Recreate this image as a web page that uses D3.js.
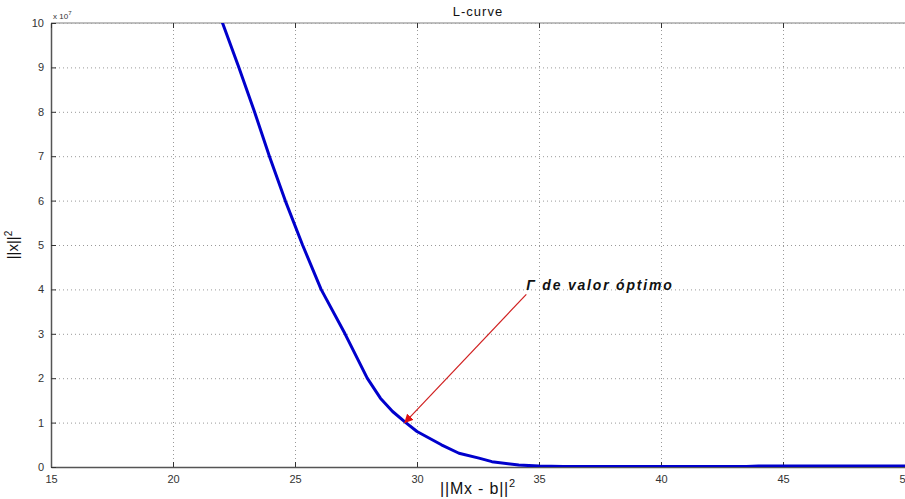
<!DOCTYPE html>
<html>
<head>
<meta charset="utf-8">
<script src="https://cdn.jsdelivr.net/npm/d3@7"></script>
<style>
  body { margin: 0; background: #fff; }
  svg text { font-family: Arial, "Liberation Sans", sans-serif; }
  .grid line { stroke: #999; stroke-dasharray: 1,3; stroke-width: 1; }
  .grid .domain { display: none; }
  .axis text { fill: #333; font-size: 11px; }
  .axis line { stroke: #333; }
</style>
</head>
<body>
<svg id="chart" width="905" height="499"></svg>
<script>
// values (y in units of 1e7)
let residual = [21.8, 22.03, 22.7, 23.34, 23.95, 24.6, 25.31, 26.07, 27.05, 27.96, 28.5, 29.0, 29.54, 30.0, 31.0, 31.72, 32.54, 33.07, 34.17, 35.0, 36.0, 40.0, 43.5, 44.0, 50.0]
let solnorm = [10.4, 10, 9, 8, 7, 6, 5, 4, 3, 2, 1.55, 1.25, 1.0, 0.8, 0.5, 0.31, 0.2, 0.12, 0.045, 0.02, 0.01, 0.01, 0.01, 0.02, 0.02]
let xTicks = [15, 20, 25, 30, 35, 40, 45, 50]
let yTicks = [0, 1, 2, 3, 4, 5, 6, 7, 8, 9, 10]
let optimum = [29.5, 1.0]
let labelAt = [34.48, 3.98]

let svg = d3.select('#chart')
let margin = { top: 23, bottom: 32, left: 51, right: 0 }
let width = 905, height = 499

let xscale = d3.scaleLinear().domain([15, 50]).range([margin.left, width - margin.right])
let yscale = d3.scaleLinear().domain([0, 10]).range([height - margin.bottom, margin.top])

// grid
svg.append('g').attr('class', 'grid')
    .attr('transform', `translate(0,${height - margin.bottom})`)
    .call(d3.axisBottom(xscale).tickValues(xTicks).tickSize(-(height - margin.top - margin.bottom)).tickFormat(''))
svg.append('g').attr('class', 'grid')
    .attr('transform', `translate(${margin.left},0)`)
    .call(d3.axisLeft(yscale).tickValues(yTicks).tickSize(-(width - margin.left - margin.right)).tickFormat(''))

// top edge of the box
svg.append('line').attr('x1', margin.left).attr('x2', width).attr('y1', margin.top).attr('y2', margin.top)
    .attr('stroke', '#aaa').attr('stroke-width', 1.5)

// axes (ticks inside, matlab style)
let xAxis = svg.append('g').attr('class', 'axis xAxis')
    .attr('transform', `translate(0,${height - margin.bottom})`)
    .call(d3.axisBottom(xscale).tickValues(xTicks).tickSize(-5).tickPadding(8).tickSizeOuter(0))
xAxis.select('.domain').attr('stroke', '#555').attr('stroke-width', 1.5)

let yAxis = svg.append('g').attr('class', 'axis yAxis')
    .attr('transform', `translate(${margin.left},0)`)
    .call(d3.axisLeft(yscale).tickValues(yTicks).tickSize(-5).tickPadding(7).tickSizeOuter(0))
yAxis.select('.domain').attr('stroke', '#555').attr('stroke-width', 1.5)

// top ticks
svg.append('g').attr('class', 'axis')
    .attr('transform', `translate(0,${margin.top})`)
    .call(d3.axisTop(xscale).tickValues(xTicks).tickSize(-5).tickFormat('').tickSizeOuter(0))
    .select('.domain').remove()

// x 10^7 multiplier
let mult = svg.append('text').attr('x', margin.left + 2).attr('y', 19).attr('font-size', 8).attr('fill', '#333')
mult.append('tspan').text('x 10')
mult.append('tspan').attr('dy', -4).attr('font-size', 6).text('7')

// curve
svg.append('clipPath').attr('id', 'plotclip').append('rect')
    .attr('x', margin.left).attr('y', margin.top)
    .attr('width', width - margin.left - margin.right).attr('height', height - margin.top - margin.bottom)

let pts = residual.map((r, i) => [r, solnorm[i]])
svg.append('path')
    .datum(pts)
    .attr('clip-path', 'url(#plotclip)')
    .attr('d', d3.line().x(d => xscale(d[0])).y(d => yscale(d[1])))
    .attr('fill', 'none')
    .attr('stroke', '#0000cc')
    .attr('stroke-width', 3)
    .attr('stroke-linejoin', 'round')

// arrow annotation
svg.append('defs').append('marker')
    .attr('id', 'arrowhead').attr('viewBox', '0 0 10 10')
    .attr('refX', 9).attr('refY', 5)
    .attr('markerWidth', 9).attr('markerHeight', 9)
    .attr('markerUnits', 'userSpaceOnUse')
    .attr('orient', 'auto')
    .append('path').attr('d', 'M0,0 L10,5 L0,10 z').attr('fill', '#e01010')

svg.append('line')
    .attr('x1', xscale(labelAt[0])).attr('y1', yscale(labelAt[1]) + 4)
    .attr('x2', xscale(optimum[0])).attr('y2', yscale(optimum[1]))
    .attr('stroke', '#d02020').attr('stroke-width', 1.2)
    .attr('marker-end', 'url(#arrowhead)')

svg.append('text')
    .attr('x', xscale(labelAt[0])).attr('y', yscale(labelAt[1]))
    .attr('font-size', 14).attr('font-style', 'italic').attr('font-weight', 'bold')
    .attr('letter-spacing', 1.8).attr('fill', '#111')
    .text('Γ de valor óptimo')

// title and labels
svg.append('text').attr('x', (margin.left + width) / 2).attr('y', 16)
    .attr('text-anchor', 'middle').attr('font-size', 13).attr('letter-spacing', 1)
    .attr('fill', '#111').text('L-curve')

let xl = svg.append('text').attr('x', (margin.left + width) / 2).attr('y', 494)
    .attr('text-anchor', 'middle').attr('font-size', 16).attr('letter-spacing', 0.8).attr('fill', '#111')
xl.append('tspan').text('||Mx - b||')
xl.append('tspan').attr('dy', -7).attr('font-size', 11).text('2')

let yl = svg.append('text').attr('transform', `translate(18,${(margin.top + height - margin.bottom) / 2}) rotate(-90)`)
    .attr('text-anchor', 'middle').attr('font-size', 15).attr('fill', '#111')
yl.append('tspan').text('||x||')
yl.append('tspan').attr('dy', -6).attr('font-size', 10).text('2')
</script>
</body>
</html>
